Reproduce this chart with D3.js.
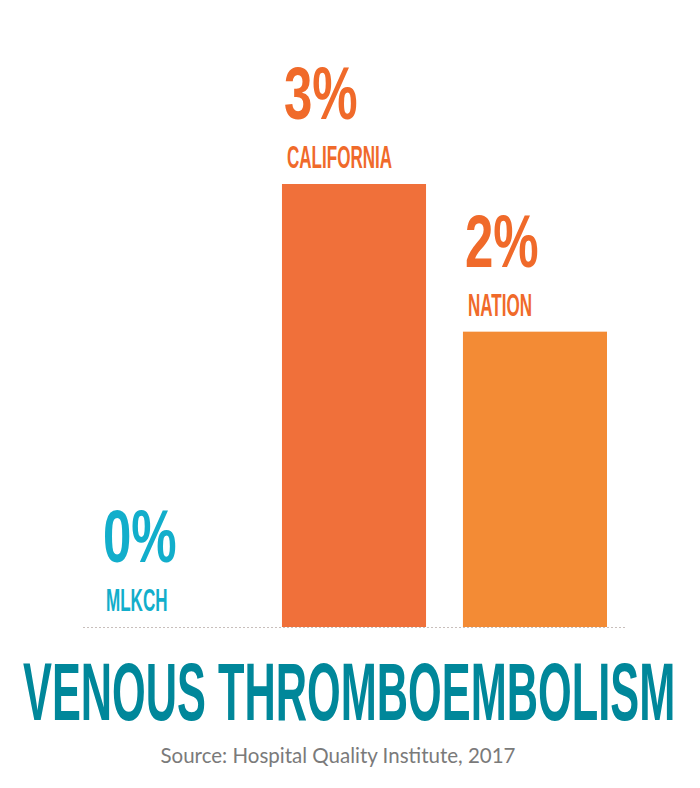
<!DOCTYPE html>
<html>
<head>
<meta charset="utf-8">
<script src="https://cdn.jsdelivr.net/npm/d3@7"></script>
<style>
  body { margin: 0; background: #fff; }
  svg { display: block; }
</style>
</head>
<body>
<svg id="chart"></svg>
<script>
// data
var categories = ["MLKCH", "CALIFORNIA", "NATION"];
var values = [0, 3, 2];           // percent
var valueLabels = ["0%", "3%", "2%"];
var title = "VENOUS THROMBOEMBOLISM";
var source = "Source: Hospital Quality Institute, 2017";

var wtot = 700,
    htot = 788;

var barColours = ["#12aecb", "#f0703a", "#f38b35"];
var textColours = ["#12aecb", "#f06a2a", "#f06a2a"];

var svg = d3.select("#chart")
    .attr("width", wtot)
    .attr("height", htot);

var x = d3.scaleBand()
    .domain(categories)
    .range([101, 607])
    .paddingInner(0.204)
    .paddingOuter(0);

var y = d3.scaleLinear()
    .domain([0, 3])
    .range([627, 184]);

var FONT = "'Liberation Sans', sans-serif";

// squeeze text horizontally so it looks like a tall condensed display face
function squeeze(sel, factor) {
    sel.each(function() {
        var t = d3.select(this);
        var px = +t.attr("x"), py = +t.attr("y");
        t.attr("x", 0).attr("y", 0)
            .attr("transform", `translate(${px},${py}) scale(${factor},1)`);
    });
}

// baseline (dotted)
svg.append("line")
    .attr("x1", 83)
    .attr("x2", 627)
    .attr("y1", y(0) + 0.5)
    .attr("y2", y(0) + 0.5)
    .attr("stroke", "#c8bfbc")
    .attr("stroke-width", 1)
    .attr("stroke-dasharray", "2,2");

// bars
svg.selectAll("rect.bar")
    .data(values)
    .join("rect")
    .attr("class", "bar")
    .attr("x", (d, i) => x(categories[i]))
    .attr("width", x.bandwidth())
    .attr("y", d => y(d))
    .attr("height", d => y(0) - y(d))
    .style("fill", (d, i) => barColours[i]);

// category labels
svg.selectAll("text.cat")
    .data(values)
    .join("text")
    .attr("class", "cat")
    .attr("x", (d, i) => x(categories[i]) + 5)
    .attr("y", d => y(d) - 16)
    .attr("font-family", FONT)
    .attr("font-weight", "bold")
    .attr("font-size", 31)
    .style("fill", (d, i) => textColours[i])
    .text((d, i) => categories[i])
    .call(squeeze, 0.55);

// percentages
svg.selectAll("text.pct")
    .data(values)
    .join("text")
    .attr("class", "pct")
    .attr("x", (d, i) => x(categories[i]) + 2)
    .attr("y", d => y(d) - 65)
    .attr("font-family", FONT)
    .attr("font-weight", "bold")
    .attr("font-size", 75)
    .style("fill", (d, i) => textColours[i])
    .text((d, i) => valueLabels[i])
    .call(squeeze, 0.68);

// big title
svg.append("text")
    .attr("x", 23)
    .attr("y", 720)
    .attr("font-family", FONT)
    .attr("font-weight", "bold")
    .attr("font-size", 81)
    .style("fill", "#00879a")
    .text(title)
    .call(squeeze, 0.535);

// source
svg.append("text")
    .attr("x", 338)
    .attr("y", 763)
    .attr("text-anchor", "middle")
    .attr("font-family", "Lato, 'Open Sans', sans-serif")
    .attr("font-size", 20.5)
    .style("fill", "#7a7a7a")
    .text(source);
</script>
</body>
</html>
